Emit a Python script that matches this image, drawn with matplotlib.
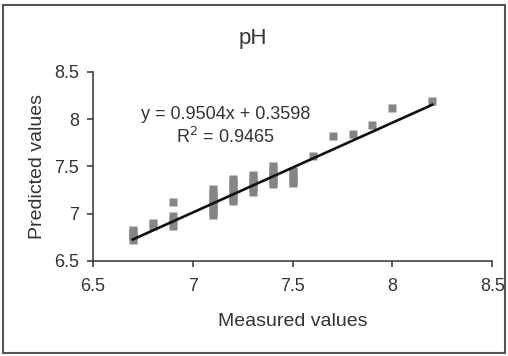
import numpy as np
import matplotlib.pyplot as plt
from matplotlib.patches import Rectangle

plt.rcParams['font.family'] = ['Liberation Sans', 'DejaVu Sans']

# measured / predicted pH values (overlapping squares form the vertical bars)
measured = [6.7, 6.7, 6.7, 6.7, 6.7,
            6.8, 6.8,
            6.9, 6.9, 6.9, 6.9,
            7.1, 7.1, 7.1, 7.1, 7.1, 7.1, 7.1, 7.1, 7.1,
            7.2, 7.2, 7.2, 7.2, 7.2, 7.2, 7.2, 7.2,
            7.3, 7.3, 7.3, 7.3, 7.3, 7.3,
            7.4, 7.4, 7.4, 7.4, 7.4, 7.4, 7.4,
            7.5, 7.5, 7.5, 7.5, 7.5,
            7.6, 7.7, 7.8, 7.9, 8.0, 8.2]
predicted = [6.72, 6.75, 6.78, 6.81, 6.83,
             6.87, 6.90,
             6.87, 6.93, 6.98, 7.12,
             6.99, 7.02, 7.05, 7.08, 7.11, 7.14, 7.18, 7.22, 7.26,
             7.13, 7.16, 7.19, 7.23, 7.27, 7.30, 7.34, 7.37,
             7.23, 7.27, 7.31, 7.34, 7.38, 7.41,
             7.31, 7.34, 7.37, 7.40, 7.43, 7.47, 7.50,
             7.32, 7.35, 7.38, 7.42, 7.45,
             7.61, 7.82, 7.84, 7.94, 8.12, 8.19]

slope = 0.9504
intercept = 0.3598
r2 = 0.9465

fig = plt.figure(figsize=(5.08, 3.56), dpi=100)
ax = fig.add_axes([0.183, 0.267, 0.786, 0.531])

ax.plot(measured, predicted, 's', color='#858585', ms=5.5, mec='none')

xf = np.array([min(measured), max(measured)])
ax.plot(xf, slope * xf + intercept, color='#111111', lw=1.9)

ax.set_xlim(6.5, 8.5)
ax.set_ylim(6.5, 8.5)
ax.set_xticks([6.5, 7, 7.5, 8, 8.5])
ax.set_yticks([6.5, 7, 7.5, 8, 8.5])
ax.set_xticklabels(['6.5', '7', '7.5', '8', '8.5'])
ax.set_yticklabels(['6.5', '7', '7.5', '8', '8.5'])
for s in ['top', 'right']:
    ax.spines[s].set_visible(False)
for s in ['left', 'bottom']:
    ax.spines[s].set_color('#333333')
    ax.spines[s].set_linewidth(1.1)
ax.tick_params(direction='out', length=4, width=1.1, color='#333333',
               labelsize=13, labelcolor='#333333')
ax.tick_params(axis='x', pad=8)
ax.tick_params(axis='y', pad=6)

ax.set_xlabel('Measured values', fontsize=14, color='#333333', labelpad=13)
ax.set_ylabel('Predicted values', fontsize=14, color='#333333', labelpad=6)
fig.text(0.498, 0.893, 'pH', ha='center', va='center', fontsize=16, color='#333333')

ax.text(7.165, 8.05, 'y = %.4fx + %.4f' % (slope, intercept), ha='center',
        va='center', fontsize=13, color='#333333')
ax.text(7.165, 7.81, 'R$^2$ = %.4f' % r2, ha='center', va='center',
        fontsize=13, color='#333333')

fig.patches.append(Rectangle((0.006, 0.008), 0.988, 0.978, transform=fig.transFigure,
                             fill=False, edgecolor='#555555', lw=1.5))

fig.savefig('out.png', dpi=100)
